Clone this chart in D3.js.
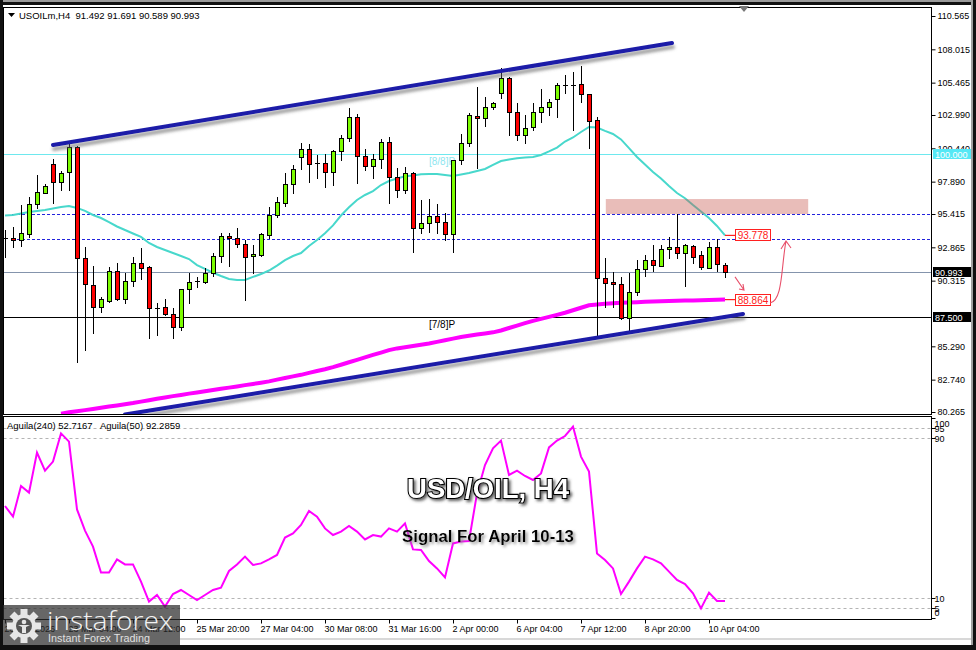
<!DOCTYPE html>
<html><head><meta charset="utf-8">
<script src="https://cdn.jsdelivr.net/npm/d3@7"></script>
<style>
html,body{margin:0;padding:0;background:#fff;}
svg{display:block;font-family:"Liberation Sans",Arial,sans-serif;}
</style></head><body>
<svg id="c" width="976" height="650"></svg>
<script>
// ---------------- DATA ----------------
const opens=[93.50,93.55,93.43,93.90,96.16,97.05,99.22,97.89,98.60,100.52,
92.03,89.98,88.28,88.78,91.03,88.89,90.27,91.64,91.34,88.25,
88.28,87.74,86.75,89.65,90.22,90.20,90.90,92.20,93.73,93.55,
93.12,92.20,92.30,93.81,95.34,96.28,97.69,99.75,100.36,99.27,
99.29,98.65,100.23,101.20,102.81,99.88,99.09,99.60,100.95,98.22,
97.25,98.53,94.32,94.70,95.26,94.83,93.89,99.55,100.82,102.94,
102.74,103.58,104.65,105.80,103.20,101.46,102.05,103.20,103.62,104.19,
105.25,105.30,105.34,104.57,102.61,90.49,90.24,90.04,87.48,89.42,
91.18,91.90,91.46,92.72,92.92,92.41,92.99,92.28,91.31,92.87,
91.492];
const highs=[94.20,94.45,96.10,96.74,98.40,97.70,99.60,98.73,101.02,100.60,
92.87,91.44,89.09,91.39,91.64,90.88,92.10,92.79,91.44,88.58,
88.89,88.20,89.65,90.88,90.62,91.26,92.45,93.98,93.98,94.37,
93.43,93.04,93.95,95.97,96.74,98.57,99.16,100.87,100.80,99.93,
100.00,100.30,101.46,103.50,103.07,100.36,100.00,101.13,101.28,98.91,
98.99,98.60,96.49,96.54,96.18,95.47,99.55,101.54,103.17,105.16,
104.35,104.00,106.56,105.90,103.88,102.99,103.88,104.96,104.20,105.46,
106.05,106.30,106.74,104.60,102.81,92.03,91.00,90.62,90.88,91.90,
92.28,93.04,93.04,93.68,95.39,93.10,93.05,92.60,93.30,93.48,
91.691];
const lows=[92.15,92.92,92.97,93.63,95.85,97.00,96.23,97.25,97.25,84.09,
85.00,86.29,87.94,88.70,88.80,88.58,89.91,90.42,85.90,86.16,
87.69,85.90,86.54,88.63,89.85,90.10,90.67,91.77,91.44,92.92,
88.84,90.93,92.20,93.55,95.16,96.03,97.05,98.84,97.89,98.15,
97.46,97.64,99.55,101.00,97.76,98.78,98.20,98.91,96.28,96.74,
97.00,92.53,93.94,94.06,93.94,93.43,92.53,99.24,100.62,98.91,
102.15,103.43,104.27,101.46,101.08,100.83,101.84,102.48,102.99,102.86,
104.65,101.84,104.01,100.44,86.03,88.32,88.32,87.36,86.29,89.20,
90.67,91.08,91.40,92.03,92.03,89.91,91.64,91.18,91.26,91.08,
90.589];
const closes=[93.60,93.45,93.94,96.18,97.07,97.55,97.89,98.57,100.52,92.03,
90.04,88.28,88.89,91.03,88.89,90.27,91.64,91.31,88.20,88.22,
87.74,86.75,89.65,90.24,90.26,90.93,92.20,93.73,93.55,93.10,
92.15,92.35,93.89,95.34,96.31,97.69,98.84,100.36,99.24,99.30,
98.65,100.23,101.20,102.81,99.88,99.09,99.60,100.95,98.22,97.25,
98.53,94.32,94.70,95.26,94.83,93.89,99.55,100.82,102.99,102.74,
103.58,103.93,105.80,103.20,101.46,102.02,103.20,103.62,103.96,105.29,
105.32,105.28,104.57,102.55,90.49,90.11,90.06,87.48,89.42,91.18,
91.90,91.52,92.72,92.92,92.41,93.04,92.15,91.39,92.87,91.59,
90.993];
const maFast=[95.30,95.34,95.45,95.57,95.65,95.72,95.84,95.95,96.03,95.88,
95.65,95.34,95.11,94.80,94.46,94.19,93.92,93.66,93.20,92.89,
92.66,92.43,92.20,91.97,91.51,91.21,90.92,90.67,90.44,90.37,
90.37,90.60,90.82,91.09,91.47,91.89,92.20,92.43,92.97,93.43,
93.94,94.54,95.30,95.93,96.49,96.87,97.17,97.63,97.94,98.13,
98.30,98.36,98.46,98.48,98.48,98.40,98.32,98.44,98.55,98.71,
98.86,99.17,99.47,99.59,99.68,99.74,99.78,99.93,100.20,100.50,
100.96,101.27,101.69,102.07,102.03,101.77,101.54,101.12,100.45,99.78,
99.20,98.63,98.13,97.56,97.02,96.62,96.10,95.61,95.11,94.50,
93.778];
const maSlowStartBar=7;
const maSlow=[80.14,80.24,80.32,80.41,80.50,80.59,80.68,80.77,80.86,80.95,
81.06,81.17,81.28,81.38,81.48,81.57,81.67,81.76,81.86,81.95,
82.04,82.13,82.22,82.32,82.41,82.51,82.61,82.74,82.86,82.99,
83.11,83.26,83.40,83.54,83.70,83.88,84.07,84.25,84.44,84.63,
84.81,85.00,85.13,85.22,85.32,85.41,85.51,85.63,85.75,85.88,
86.00,86.10,86.19,86.27,86.36,86.50,86.69,86.88,87.06,87.24,
87.39,87.54,87.70,87.86,88.05,88.24,88.43,88.49,88.54,88.58,
88.62,88.65,88.67,88.70,88.72,88.74,88.76,88.78,88.79,88.80,
88.82,88.83,88.85,88.864];
const aguila=[56,50.7,66,62.7,82.7,73.7,78.2,92.3,88.2,54.3,
43.7,35.7,22.7,22.7,29.3,26.8,26.8,18.2,8.2,11.5,
5.7,12,14,11.5,9,11.5,14,15.2,23.5,26.8,
30.7,26.5,27.3,29.3,31.5,40.2,42.3,46.5,53.5,50.7,
44.8,41.5,43.2,46,43.2,39.3,41.5,40.7,44.8,43.2,
47.3,34.3,34,28.5,24.8,20.3,37.3,38.2,38.5,62.3,
76.5,84.8,88.7,71.5,73.7,71,69,72.3,85.3,88.7,
91,95.7,80.7,73.2,32.3,29,24.8,12,18.2,24.8,
30.7,29.3,27.3,23.2,19,17,12.3,4.8,12.7,8.5,
8.5];
const priceTicks=[110.565,108.015,105.465,102.990,100.440,97.890,95.415,92.865,90.315,85.290,82.740,80.265];
const oscTicks=[100,95,90,10,5,0];
const oscLevels=[95,90,10,5];
const timeLabels=["20 Mar 2026","23 Mar 04:00","24 Mar 12:00","25 Mar 20:00","27 Mar 04:00","30 Mar 08:00","31 Mar 16:00","2 Apr 00:00","6 Apr 04:00","7 Apr 12:00","8 Apr 20:00","10 Apr 04:00"];
const timeLabelBars=[0,8,16,24,32,40,48,56,64,72,80,88];
const murreyLevel=100.000, pivotLevel=87.500, lastPrice=90.993;
const dashedLevels=[95.415,93.50];
const channelUpper=[[6,100.70],[83.375,108.50]];
const channelLower=[[15,80.07],[92.25,87.77]];
const zoneBars=[75.1,100.4], zonePrices=[96.56,95.415];
const targetUp=93.778, targetDown=88.864;
const smallArrow=[[91.25,90.60],[92.375,89.60]];
const curveArrow=[[95.625,88.60],[97.25,88.83],[97.0,91.29],[97.625,93.35]];

// ---------------- LAYOUT ----------------
const L=3.5, R=931.5, MT=7.5, MB=414.5, OT=416.5, OB=619.5;
const svg=d3.select('#c');
const x=d3.scaleLinear().domain([0,90]).range([5,725]);
const y=d3.scaleLinear().domain([80.265,110.565]).range([412,16]);
const yo=d3.scaleLinear().domain([0,100]).range([618,418]);

const defs=svg.append('defs');
defs.append('clipPath').attr('id','cm').append('rect').attr('x',L).attr('y',MT).attr('width',R-L).attr('height',MB-MT);
defs.append('clipPath').attr('id','co').append('rect').attr('x',L).attr('y',OT).attr('width',R-L).attr('height',OB-OT);
const f1=defs.append('filter').attr('id','lshadow').attr('x','-10%').attr('y','-50%').attr('width','120%').attr('height','200%');
f1.append('feDropShadow').attr('dx',1).attr('dy',4).attr('stdDeviation',1.6).attr('flood-color','#666').attr('flood-opacity',0.6);
const f2=defs.append('filter').attr('id','blur2').attr('x','-5%').attr('y','-200%').attr('width','110%').attr('height','500%');
f2.append('feGaussianBlur').attr('stdDeviation',1.8);
const f3=defs.append('filter').attr('id','tshadow').attr('x','-10%').attr('y','-30%').attr('width','130%').attr('height','170%');
f3.append('feDropShadow').attr('dx',2).attr('dy',2).attr('stdDeviation',1.5).attr('flood-color','#444').attr('flood-opacity',0.85);
const f4=defs.append('filter').attr('id','tshadow2').attr('x','-10%').attr('y','-30%').attr('width','130%').attr('height','170%');
f4.append('feDropShadow').attr('dx',2).attr('dy',2).attr('stdDeviation',1.4).attr('flood-color','#888').attr('flood-opacity',0.9);

svg.append('rect').attr('width',976).attr('height',650).attr('fill','#fff');

// ---------------- MAIN PANEL ----------------
const gm=svg.append('g').attr('clip-path','url(#cm)');
gm.append('line').attr('x1',L).attr('x2',R).attr('y1',Math.round(y(murreyLevel))+0.5).attr('y2',Math.round(y(murreyLevel))+0.5).attr('stroke','#6ee8ee').attr('stroke-width',1);
dashedLevels.forEach(v=>{
  const yy=Math.round(y(v))+0.5;
  gm.append('line').attr('x1',12).attr('x2',R).attr('y1',yy+4).attr('y2',yy+4).attr('stroke','#aaa').attr('stroke-width',3).attr('opacity',0.55).attr('filter','url(#blur2)');
  gm.append('line').attr('x1',12).attr('x2',R).attr('y1',yy).attr('y2',yy).attr('stroke','#2222dd').attr('stroke-width',1).attr('stroke-dasharray','3,2');
});
gm.append('line').attr('x1',L).attr('x2',R).attr('y1',Math.round(y(lastPrice))+0.5).attr('y2',Math.round(y(lastPrice))+0.5).attr('stroke','#8494ac').attr('stroke-width',1);
gm.append('line').attr('x1',L).attr('x2',R).attr('y1',Math.round(y(pivotLevel))+0.5).attr('y2',Math.round(y(pivotLevel))+0.5).attr('stroke','#000').attr('stroke-width',1);
gm.append('text').attr('x',429).attr('y',y(murreyLevel)+11).attr('font-size',10).attr('fill','#8ee6f0').text('[8/8]P');
gm.append('text').attr('x',429).attr('y',y(pivotLevel)+11).attr('font-size',10).attr('fill','#000').text('[7/8]P');

const lineFast=d3.line().x((d,i)=>x(i)).y(d=>y(d));
gm.append('path').attr('d',lineFast(maFast)).attr('fill','none').attr('stroke','#48d8cc').attr('stroke-width',2);
const lineSlow=d3.line().x((d,i)=>x(i+maSlowStartBar)).y(d=>y(d));
gm.append('path').attr('d',lineSlow(maSlow)).attr('fill','none').attr('stroke','#ff00ff').attr('stroke-width',4);

gm.append('rect').attr('x',x(zoneBars[0])).attr('y',y(zonePrices[0])).attr('width',x(zoneBars[1])-x(zoneBars[0])).attr('height',y(zonePrices[1])-y(zonePrices[0])).attr('fill','rgb(200,90,80)').attr('opacity',0.4);

const bars=d3.range(opens.length).map(i=>({i,o:opens[i],h:highs[i],l:lows[i],c:closes[i]}));
const gc=gm.append('g');
bars.forEach(d=>{
  const cx=Math.round(x(d.i));
  gc.append('line').attr('x1',cx+0.5).attr('x2',cx+0.5).attr('y1',Math.round(y(d.h))).attr('y2',Math.round(y(d.l))+1).attr('stroke','#000').attr('stroke-width',1);
  const t=Math.round(y(Math.max(d.o,d.c))), b=Math.round(y(Math.min(d.o,d.c)));
  if(b-t<2){
    gc.append('line').attr('x1',cx-2).attr('x2',cx+3).attr('y1',t+0.5).attr('y2',t+0.5).attr('stroke','#000').attr('stroke-width',1.2);
  } else {
    gc.append('rect').attr('x',cx-1.5).attr('y',t+0.5).attr('width',4).attr('height',b-t)
      .attr('fill',d.c>=d.o?'#7cfc00':'#ff0000').attr('stroke','#000').attr('stroke-width',1);
  }
});

[channelUpper,channelLower].forEach(ch=>{
  gm.append('line').attr('x1',x(ch[0][0])).attr('y1',y(ch[0][1])).attr('x2',x(ch[1][0])).attr('y2',y(ch[1][1]))
    .attr('stroke','#1c1ca8').attr('stroke-width',4).attr('stroke-linecap','round').attr('filter','url(#lshadow)');
});

[targetUp,targetDown].forEach(v=>{
  const yy=y(v), x0=x(90);
  svg.append('line').attr('x1',x0).attr('x2',x0+10).attr('y1',yy).attr('y2',yy).attr('stroke','#ff2020').attr('stroke-width',1.2);
  svg.append('rect').attr('x',x0+10.5).attr('y',Math.round(yy)-5.5).attr('width',35).attr('height',11).attr('fill','#fff').attr('stroke','#ff2020').attr('stroke-width',1);
  svg.append('text').attr('x',x0+28).attr('y',Math.round(yy)+4).attr('text-anchor','middle').attr('font-size',10).attr('fill','#ff2020').text(v.toFixed(3));
});
const arrowCol='#e8506a';
{
  const p0=[x(smallArrow[0][0]),y(smallArrow[0][1])], p1=[x(smallArrow[1][0]),y(smallArrow[1][1])];
  svg.append('path').attr('d',`M${p0}L${p1}M${p1[0]-5},${p1[1]-1}L${p1}L${p1[0]-1},${p1[1]-6}`).attr('fill','none').attr('stroke',arrowCol).attr('stroke-width',1.1);
  const c=curveArrow.map(p=>[x(p[0]),y(p[1])]);
  svg.append('path').attr('d',`M${c[0]}C${c[1]} ${c[2]} ${c[3]}M${c[3][0]-5},${c[3][1]+8}L${c[3]}L${c[3][0]+5},${c[3][1]+7}`).attr('fill','none').attr('stroke',arrowCol).attr('stroke-width',1.1);
}

// ---------------- OSCILLATOR PANEL ----------------
const go=svg.append('g').attr('clip-path','url(#co)');
oscLevels.forEach(v=>{
  go.append('line').attr('x1',L).attr('x2',R).attr('y1',Math.round(yo(v))+0.5).attr('y2',Math.round(yo(v))+0.5).attr('stroke','#b4b4b4').attr('stroke-dasharray','3,3');
});
const lineOsc=d3.line().x((d,i)=>x(i)).y(d=>yo(d));
go.append('path').attr('d',lineOsc(aguila)).attr('fill','none').attr('stroke','#ff00ff').attr('stroke-width',2);

// ---------------- FRAMES & AXES ----------------
svg.append('rect').attr('x',L).attr('y',MT).attr('width',R-L).attr('height',MB-MT).attr('fill','none').attr('stroke','#000');
svg.append('rect').attr('x',L).attr('y',OT).attr('width',R-L).attr('height',OB-OT).attr('fill','none').attr('stroke','#000');

const ay=svg.append('g').attr('transform',`translate(${R},0)`)
  .call(d3.axisRight(y).tickValues(priceTicks).tickSize(4).tickPadding(2).tickFormat(d3.format('.3f')));
ay.select('.domain').remove();
ay.selectAll('text').attr('font-size',9).attr('font-family','"Liberation Sans",Arial,sans-serif').attr('fill','#000');
ay.selectAll('line').attr('stroke','#000');

function priceBox(v,fill){
  const yy=Math.round(y(v));
  svg.append('rect').attr('x',933).attr('y',yy-5).attr('width',38).attr('height',10).attr('fill',fill);
  svg.append('text').attr('x',935).attr('y',yy+3.5).attr('font-size',9).attr('fill','#fff').text(v.toFixed(3));
}
priceBox(murreyLevel,'#55e8f5');
priceBox(lastPrice,'#000');
priceBox(pivotLevel,'#000');

oscTicks.forEach(v=>{
  const yy=Math.round(yo(v))+0.5;
  svg.append('line').attr('x1',R).attr('x2',R+4).attr('y1',yy).attr('y2',yy).attr('stroke','#000');
  const ly=Math.max(423,Math.min(612,yo(v)));
  svg.append('text').attr('x',R+3).attr('y',ly+3.5).attr('font-size',9).attr('fill','#000').text(v);
});

timeLabelBars.forEach((b,k)=>{
  const xx=Math.round(x(b))+0.5;
  svg.append('line').attr('x1',xx).attr('x2',xx).attr('y1',OB).attr('y2',OB+4).attr('stroke','#000');
  svg.append('text').attr('x',xx-1).attr('y',632).attr('font-size',9).attr('fill','#000').text(timeLabels[k]);
});

svg.append('path').attr('d','M8,13L15,13L11.5,17Z').attr('fill','#000');
svg.append('text').attr('x',19).attr('y',18.5).attr('font-size',9.5).attr('fill','#000').attr('xml:space','preserve').text('USOILm,H4  91.492 91.691 90.589 90.993');
svg.append('text').attr('x',7).attr('y',428.5).attr('font-size',9.5).attr('fill','#000').attr('xml:space','preserve').text('Aguila(240) 52.7167   Aguila(50) 92.2859');
svg.append('path').attr('d','M739,6L749,6L744,12Z').attr('fill','#777');

svg.append('text').attr('x',488).attr('y',498).attr('text-anchor','middle').attr('font-size',27.5).attr('font-weight','bold')
  .attr('fill','#fff').attr('stroke','#000').attr('stroke-width',2.2).attr('paint-order','stroke').attr('filter','url(#tshadow)').text('USD/OIL, H4');
svg.append('text').attr('x',488).attr('y',542).attr('text-anchor','middle').attr('font-size',16.8).attr('font-weight','bold')
  .attr('fill','#000').attr('filter','url(#tshadow2)').text('Signal For April 10-13');

// logo
const lg=svg.append('g');
lg.append('rect').attr('x',0).attr('y',605).attr('width',180).attr('height',41).attr('fill','rgba(45,45,45,0.72)');
const gcx=24,gcy=626;
for(let k=0;k<8;k++){
  lg.append('rect').attr('x',gcx-3.5).attr('y',gcy-17).attr('width',7).attr('height',8).attr('fill','#e6e6e6')
    .attr('transform',`rotate(${k*45},${gcx},${gcy})`);
}
lg.append('circle').attr('cx',gcx).attr('cy',gcy).attr('r',12).attr('fill','#e6e6e6');
lg.append('circle').attr('cx',gcx).attr('cy',gcy).attr('r',8).attr('fill','#555');
lg.append('circle').attr('cx',gcx).attr('cy',gcy-4).attr('r',2.3).attr('fill','#e6e6e6');
lg.append('path').attr('d',`M${gcx-6},${gcy-1}L${gcx+6},${gcy-1}L${gcx+2},${gcy+1}L${gcx+2},${gcy+7}L${gcx-2},${gcy+7}L${gcx-2},${gcy+1}Z`).attr('fill','#e6e6e6');
lg.append('text').attr('x',47).attr('y',630).attr('font-size',26).attr('textLength',126).attr('lengthAdjust','spacingAndGlyphs')
  .attr('font-family','"Open Sans","Liberation Sans",Arial,sans-serif').attr('font-weight',300).attr('fill','#f2f2f2').text('instaforex');
lg.append('text').attr('x',48).attr('y',642).attr('font-size',10.5).attr('textLength',102).attr('lengthAdjust','spacingAndGlyphs').attr('fill','#e0e0e0').text('Instant Forex Trading');

// outer frame
svg.append('rect').attr('x',0).attr('y',0).attr('width',976).attr('height',2).attr('fill','#9a9a9a');
svg.append('rect').attr('x',0).attr('y',2).attr('width',976).attr('height',3).attr('fill','#111');
svg.append('rect').attr('x',0).attr('y',0).attr('width',3).attr('height',650).attr('fill','#111');
svg.append('rect').attr('x',971).attr('y',0).attr('width',2).attr('height',650).attr('fill','#a0a0a0');
svg.append('rect').attr('x',973).attr('y',0).attr('width',3).attr('height',650).attr('fill','#111');
svg.append('rect').attr('x',180).attr('y',638).attr('width',791).attr('height',2).attr('fill','#d8d8d8');
svg.append('rect').attr('x',0).attr('y',645).attr('width',976).attr('height',5).attr('fill','#111');
</script>
</body></html>
